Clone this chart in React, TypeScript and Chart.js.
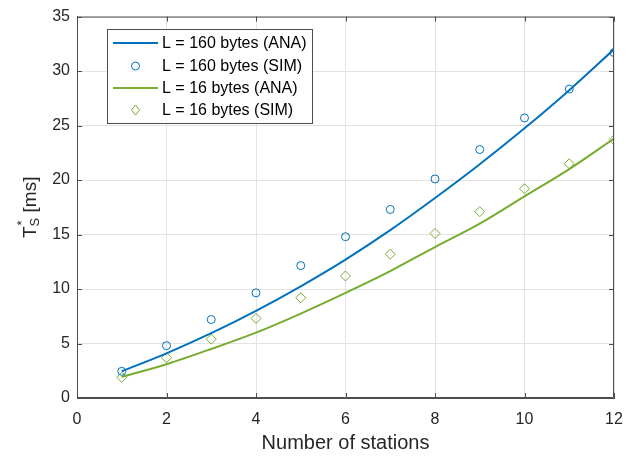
import React, { useEffect, useRef } from "react";
import { Chart, registerables } from "chart.js";

Chart.register(...registerables);

const stations = [1, 2, 3, 4, 5, 6, 7, 8, 9, 10, 11, 12];
const ana160 = [2.45, 4.1, 5.95, 8.0, 10.25, 12.7, 15.4, 18.35, 21.45, 24.75, 28.25, 32.0];
const sim160 = [2.45, 4.8, 7.2, 9.65, 12.15, 14.8, 17.3, 20.1, 22.8, 25.7, 28.35, 31.7];
const ana16 = [1.93, 3.1, 4.5, 6.0, 7.75, 9.65, 11.65, 13.85, 16.0, 18.5, 21.0, 23.8];
const sim16 = [1.9, 3.7, 5.4, 7.3, 9.2, 11.2, 13.2, 15.1, 17.1, 19.2, 21.5, 23.7];
const xTicks = [0, 2, 4, 6, 8, 10, 12];
const yTicks = [0, 5, 10, 15, 20, 25, 30, 35];
const seriesLabels = ["L = 160 bytes (ANA)", "L = 160 bytes (SIM)", "L = 16 bytes (ANA)", "L = 16 bytes (SIM)"];

const BLUE = "#0072BD";
const GREEN = "#77AC30";
const AXIS = "#4d4d4d";
const TEXT = "#262626";
const FONT = "'Liberation Sans', Arial, sans-serif";

const pts = (ys: number[]) => stations.map((x, i) => ({ x, y: ys[i] }));

const framePlugin = {
  id: "frame",
  afterDraw(chart: any) {
    const { ctx, chartArea: a, scales } = chart;
    ctx.save();
    ctx.strokeStyle = AXIS;
    ctx.lineWidth = 1;
    ctx.beginPath();
    ctx.rect(a.left + 0.5, a.top + 0.5, a.right - a.left - 1, a.bottom - a.top - 1);
    ctx.stroke();
    const tl = 5;
    ctx.beginPath();
    xTicks.forEach((v) => {
      const px = Math.round(scales.x.getPixelForValue(v)) + 0.5;
      ctx.moveTo(px, a.bottom);
      ctx.lineTo(px, a.bottom - tl);
      ctx.moveTo(px, a.top);
      ctx.lineTo(px, a.top + tl);
    });
    yTicks.forEach((v) => {
      const py = Math.round(scales.y.getPixelForValue(v)) + 0.5;
      ctx.moveTo(a.left, py);
      ctx.lineTo(a.left + tl, py);
      ctx.moveTo(a.right, py);
      ctx.lineTo(a.right - tl, py);
    });
    ctx.stroke();

    // y-axis title: T^*_S [ms]
    const cy = (a.top + a.bottom) / 2;
    ctx.translate(36, cy);
    ctx.rotate(-Math.PI / 2);
    ctx.fillStyle = TEXT;
    ctx.textBaseline = "alphabetic";
    ctx.textAlign = "left";
    const big = `19px ${FONT}`;
    const small = `13px ${FONT}`;
    ctx.font = big;
    const wT = ctx.measureText("T").width;
    const wRest = ctx.measureText(" [ms]").width;
    ctx.font = small;
    const wS = Math.max(ctx.measureText("S").width, ctx.measureText("*").width);
    const total = wT + wS + wRest;
    let x = -total / 2;
    ctx.font = big;
    ctx.fillText("T", x, 0);
    x += wT;
    ctx.font = small;
    ctx.fillText("*", x + 1, -10);
    ctx.fillText("S", x, 3);
    x += wS;
    ctx.font = big;
    ctx.fillText(" [ms]", x, 0);
    ctx.restore();

    // legend
    const lx = 107, ly = 29, lw = 205, lh = 94;
    ctx.save();
    ctx.fillStyle = "#ffffff";
    ctx.fillRect(lx, ly, lw, lh);
    ctx.strokeStyle = AXIS;
    ctx.lineWidth = 1;
    ctx.strokeRect(lx + 0.5, ly + 0.5, lw, lh);
    const rows = [43, 66, 88, 110];
    chart.data.datasets.forEach((ds: any, i: number) => {
      const y = rows[i];
      if (ds.showLine) {
        ctx.strokeStyle = ds.borderColor;
        ctx.lineWidth = 2;
        ctx.beginPath();
        ctx.moveTo(113, y);
        ctx.lineTo(158, y);
        ctx.stroke();
      } else {
        ctx.strokeStyle = ds.pointBorderColor;
        ctx.lineWidth = 1;
        ctx.beginPath();
        if (ds.pointStyle === "circle") {
          ctx.arc(135.5, y, 4, 0, Math.PI * 2);
        } else {
          ctx.moveTo(135.5, y - 5);
          ctx.lineTo(139.5, y);
          ctx.lineTo(135.5, y + 5);
          ctx.lineTo(131.5, y);
          ctx.closePath();
        }
        ctx.stroke();
      }
      ctx.fillStyle = "#000";
      ctx.font = `16px ${FONT}`;
      ctx.textBaseline = "middle";
      ctx.textAlign = "left";
      ctx.fillText(ds.label, 162, y + 1);
    });
    ctx.restore();
  },
};

export default function App() {
  const ref = useRef<HTMLCanvasElement>(null);
  useEffect(() => {
    if (!ref.current) return;
    const chart = new Chart(ref.current, {
      type: "scatter",
      data: {
        datasets: [
          {
            label: seriesLabels[0],
            data: pts(ana160),
            showLine: true,
            borderColor: BLUE,
            backgroundColor: BLUE,
            borderWidth: 2,
            pointRadius: 0,
            cubicInterpolationMode: "monotone",
          },
          {
            label: seriesLabels[1],
            data: pts(sim160),
            showLine: false,
            pointStyle: "circle",
            pointRadius: 4,
            pointBorderWidth: 1,
            pointBorderColor: BLUE,
            pointBackgroundColor: "rgba(0,0,0,0)",
            borderColor: BLUE,
          },
          {
            label: seriesLabels[2],
            data: pts(ana16),
            showLine: true,
            borderColor: GREEN,
            backgroundColor: GREEN,
            borderWidth: 2,
            pointRadius: 0,
            cubicInterpolationMode: "monotone",
          },
          {
            label: seriesLabels[3],
            data: pts(sim16),
            showLine: false,
            pointStyle: "rectRot",
            pointRadius: 5,
            pointBorderWidth: 1,
            pointBorderColor: GREEN,
            pointBackgroundColor: "rgba(0,0,0,0)",
            borderColor: GREEN,
          },
        ],
      },
      options: {
        animation: false,
        responsive: false,
        maintainAspectRatio: false,
        layout: { padding: { top: 12, right: 26, left: 0, bottom: 0 } },
        plugins: { legend: { display: false }, tooltip: { enabled: false } },
        scales: {
          x: {
            type: "linear",
            min: 0,
            max: 12,
            afterBuildTicks: (s: any) => {
              s.ticks = xTicks.map((v) => ({ value: v }));
            },
            afterFit: (s: any) => {
              s.height = 58;
            },
            grid: { color: "#e3e3e3", drawTicks: false },
            border: { display: true, color: AXIS },
            ticks: { color: TEXT, font: { family: FONT, size: 16 }, padding: 12, maxRotation: 0 },
            title: {
              display: true,
              text: "Number of stations",
              color: TEXT,
              font: { family: FONT, size: 20 },
              padding: { top: 0, bottom: 1 },
            },
          },
          y: {
            type: "linear",
            min: 0,
            max: 35,
            afterBuildTicks: (s: any) => {
              s.ticks = yTicks.map((v) => ({ value: v }));
            },
            afterFit: (s: any) => {
              s.width = 77;
            },
            grid: { color: "#e3e3e3", drawTicks: false },
            border: { display: true, color: AXIS },
            ticks: { color: TEXT, font: { family: FONT, size: 16 }, padding: 7 },
          },
        },
      },
      plugins: [framePlugin],
    } as any);
    return () => chart.destroy();
  }, []);
  return (
    <div style={{ position: "fixed", left: 0, top: 0, width: 640, height: 456, background: "#fff" }}>
      <canvas ref={ref} width={640} height={456} style={{ width: 640, height: 456 }} />
    </div>
  );
}
